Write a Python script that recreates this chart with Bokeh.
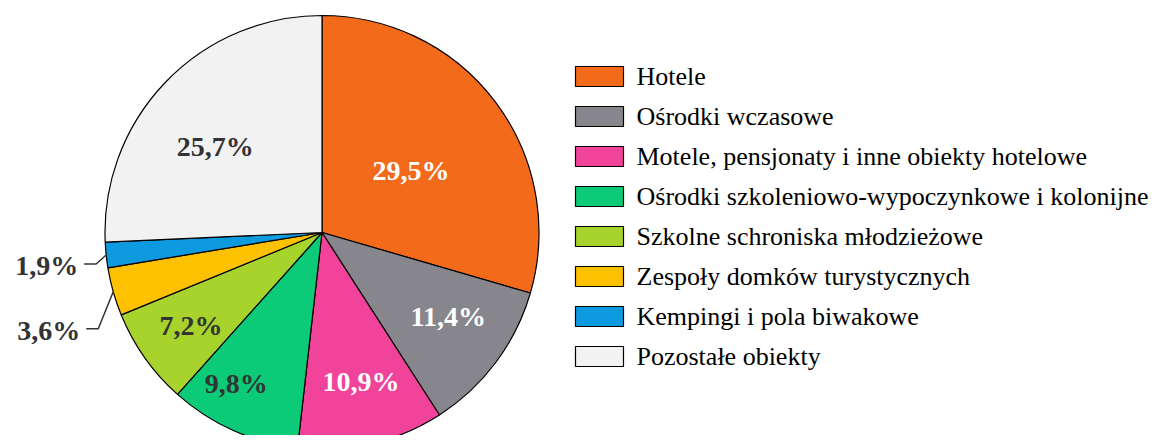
import math
from bokeh.plotting import figure
from bokeh.models import Range1d, ColumnDataSource
from bokeh.core.properties import value
from bokeh.embed import file_html
from bokeh.resources import INLINE

# ---- data ----
categories = [
    "Hotele",
    "Ośrodki wczasowe",
    "Motele, pensjonaty i inne obiekty hotelowe",
    "Ośrodki szkoleniowo-wypoczynkowe i kolonijne",
    "Szkolne schroniska młodzieżowe",
    "Zespoły domków turystycznych",
    "Kempingi i pola biwakowe",
    "Pozostałe obiekty",
]
shares = [29.5, 11.4, 10.9, 9.8, 7.2, 3.6, 1.9, 25.7]
labels = ["29,5%", "11,4%", "10,9%", "9,8%", "7,2%", "3,6%", "1,9%", "25,7%"]

# ---- style ----
colors = ["#F46A1B", "#87868C", "#F2439A", "#0BCB78", "#A8D22C", "#FDC100", "#0E9ADF", "#F2F2F2"]
label_colors = ["white", "white", "white", "#333333", "#333333", "#333333", "#333333", "#333333"]
label_rfrac = [0.50, 0.70, 0.71, 0.80, 0.74, None, None, 0.63]
label_dang = [-2, 3, 1.5, -5.5, 0, 0, 0, 5]
outside = [False, False, False, False, False, True, True, False]
FONT = value("'Liberation Serif', 'Times New Roman', serif")

W, H = 1159, 435
CX, CY, R = 321.5, 232.0, 217.0  # screen px

p = figure(width=W, height=H, output_backend="svg", toolbar_location=None,
           x_range=Range1d(0, W), y_range=Range1d(-H, 0),
           min_border=0)
p.axis.visible = False
p.grid.visible = False
p.outline_line_color = None
p.background_fill_color = "white"

total = sum(shares)
starts, ends, mids = [], [], []
cum = 0.0
for s in shares:
    a0 = math.pi / 2 - 2 * math.pi * cum / total
    cum += s
    a1 = math.pi / 2 - 2 * math.pi * cum / total
    starts.append(a0)
    ends.append(a1)
    mids.append((a0 + a1) / 2)

src = ColumnDataSource(dict(start=starts, end=ends, color=colors, cat=categories))
p.wedge(x=CX, y=-CY, radius=R, start_angle="start", end_angle="end", direction="clock",
        fill_color="color", line_color="black", line_width=1.2, source=src)

# inside labels
lx, ly, lt, lc = [], [], [], []
for i, lab in enumerate(labels):
    if outside[i]:
        continue
    a = mids[i] + math.radians(label_dang[i])
    r = R * label_rfrac[i]
    lx.append(CX + r * math.cos(a))
    ly.append(-CY + r * math.sin(a))
    lt.append(lab)
    lc.append(label_colors[i])
p.text(x=lx, y=ly, text=lt, text_color=lc, text_align="center", text_baseline="middle",
       text_font=FONT, text_font_style="bold", text_font_size="28px")

# outside labels with leader lines
elbow_off = {5: (-15, -37), 6: (-10, -9)}
for i in [5, 6]:
    a = mids[i]
    ex, ey = CX + R * math.cos(a), -CY + R * math.sin(a)
    dx, dy = elbow_off[i]
    bx, by = ex + dx, ey + dy
    hx = bx - 12
    p.line(x=[ex, bx, hx], y=[ey, by, by], line_color="#333333", line_width=1.5)
    p.text(x=[hx - 6], y=[by - 2], text=[labels[i]], text_color="#333333",
           text_align="right", text_baseline="alphabetic",
           text_font=FONT, text_font_style="bold", text_font_size="28px")

# legend
bx0, by0, step = 599, 76, 40
leg_x = [bx0] * len(categories)
leg_y = [-(by0 + step * i) for i in range(len(categories))]
p.rect(x=leg_x, y=leg_y, width=48, height=20, fill_color=colors, line_color="black", line_width=1.2)
p.text(x=[636] * len(categories), y=leg_y, text=categories, text_color="black",
       text_align="left", text_baseline="middle",
       text_font=FONT, text_font_size="26px")

open("out.html", "w").write(file_html(p, INLINE))
